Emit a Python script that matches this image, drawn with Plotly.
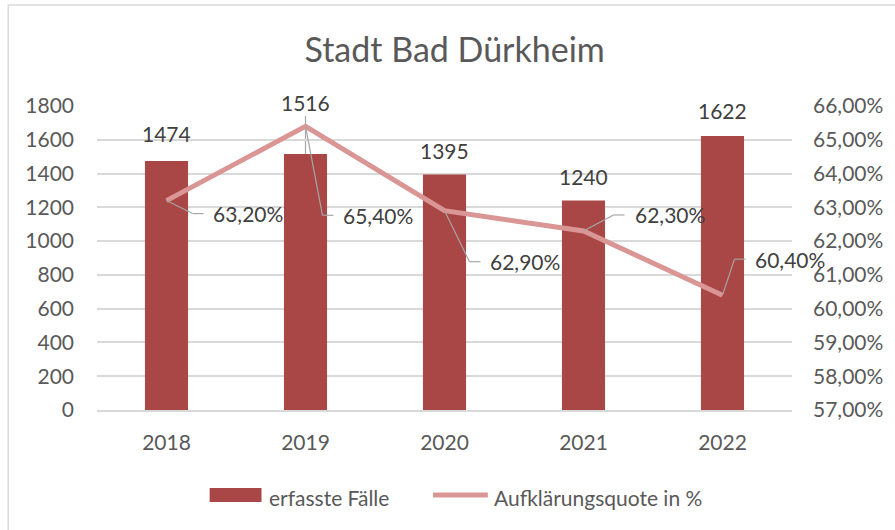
import plotly.graph_objects as go

years = [2018, 2019, 2020, 2021, 2022]
year_labels = ["2018", "2019", "2020", "2021", "2022"]
faelle = [1474, 1516, 1395, 1240, 1622]
quote = [0.632, 0.654, 0.629, 0.623, 0.604]
quote_labels = ["63,20%", "65,40%", "62,90%", "62,30%", "60,40%"]
series_names = ["erfasste Fälle", "Aufklärungsquote in %"]

# label placement (pixels, y down) relative to each line point:
# (text left x, text centre y, elbow x)
quote_label_pos = [(44, 13, 26), (35, 89, 17), (43, 51, 25), (49, -16, 30), (30, -36, 12)]
STUB = 11
bar_label_shift = [28, 51, 24, 24, 26]

BAR = "#A84745"
LINE = "#D99694"
GRID = "#D9D9D9"
LEAD = "#A6A6A6"
TXT = "#595959"
LAB = "#404040"
FONT = "Lato"
FS = 21

fig = go.Figure()
fig.add_trace(go.Bar(x=years, y=faelle, name=series_names[0],
                     marker=dict(color=BAR, line=dict(width=0)), width=0.31,
                     yaxis="y", showlegend=False))
fig.add_trace(go.Scatter(x=years, y=quote, name=series_names[1],
                         mode="lines", line=dict(color=LINE, width=5),
                         yaxis="y2", showlegend=False))

ann = []
shapes = []
for i, (yr, v) in enumerate(zip(years, faelle)):
    ann.append(dict(x=yr, y=v, xref="x", yref="y", text=str(v),
                    showarrow=False, yshift=bar_label_shift[i],
                    font=dict(size=FS, color=LAB, family=FONT)))
    if bar_label_shift[i] > 40:
        shapes.append(dict(type="line", xref="x", yref="y", layer="below",
                           xsizemode="pixel", ysizemode="pixel",
                           xanchor=yr, yanchor=v, x0=0, x1=0, y0=0,
                           y1=bar_label_shift[i] - 13,
                           line=dict(color=LEAD, width=1.2)))

for yr, q, lab, (tx, ty, ex) in zip(years, quote, quote_labels, quote_label_pos):
    ann.append(dict(x=yr, y=q, xref="x", yref="y2", text=lab,
                    showarrow=False, xanchor="left", yanchor="middle",
                    xshift=tx, yshift=-ty,
                    font=dict(size=FS, color=LAB, family=FONT)))
    shapes.append(dict(type="line", xref="x", yref="y2",
                       xsizemode="pixel", ysizemode="pixel",
                       xanchor=yr, yanchor=q, x0=0, y0=0, x1=ex, y1=-ty,
                       line=dict(color=LEAD, width=1.2)))
    shapes.append(dict(type="line", xref="x", yref="y2",
                       xsizemode="pixel", ysizemode="pixel",
                       xanchor=yr, yanchor=q, x0=ex, y0=-ty, x1=ex + STUB, y1=-ty,
                       line=dict(color=LEAD, width=1.2)))

# custom legend (paper coordinates)
ann.append(dict(x=0.2439, y=-0.2862, xref="paper", yref="paper",
                text=series_names[0], showarrow=False, xanchor="left",
                yanchor="middle", font=dict(size=FS, color=TXT, family=FONT)))
ann.append(dict(x=0.5681, y=-0.2862, xref="paper", yref="paper",
                text=series_names[1], showarrow=False, xanchor="left",
                yanchor="middle", font=dict(size=FS, color=TXT, family=FONT)))

shapes += [
    dict(type="rect", xref="paper", yref="paper",
         x0=-0.1277, x1=2, y0=-2, y1=1.332,
         line=dict(color=GRID, width=1.5), fillcolor="rgba(0,0,0,0)",
         layer="below"),
    dict(type="rect", xref="paper", yref="paper",
         x0=0.1621, x1=0.2367, y0=-0.3026, y1=-0.2566,
         line=dict(width=0), fillcolor=BAR),
    dict(type="line", xref="paper", yref="paper",
         x0=0.4835, x1=0.5624, y0=-0.2796, y1=-0.2796,
         line=dict(color=LINE, width=5)),
]

fig.update_layout(
    width=895, height=530,
    margin=dict(l=97, r=101, t=106, b=120),
    paper_bgcolor="white", plot_bgcolor="white",
    separators=",.",
    font=dict(family=FONT, color=TXT, size=FS),
    title=dict(text="Stadt Bad Dürkheim", xref="container", yref="container",
               x=0.508, y=0.906, xanchor="center", yanchor="middle",
               font=dict(size=34, color=TXT, family=FONT)),
    xaxis=dict(type="linear", range=[2017.5, 2022.5], tickmode="array",
               tickvals=years, ticktext=year_labels,
               showgrid=False, showline=True, linecolor=GRID, zeroline=False,
               linewidth=1.5, ticks="", tickfont=dict(size=FS, color=TXT),
               ticklabelstandoff=13),
    yaxis=dict(range=[0, 1800], dtick=200, tickformat="d", showgrid=True,
               gridcolor=GRID, gridwidth=1.5, zeroline=False, showline=False,
               ticks="", tickfont=dict(size=FS, color=TXT), ticklabelstandoff=22),
    yaxis2=dict(range=[0.57, 0.66], dtick=0.01, tickformat=".2%",
                overlaying="y", side="right", showgrid=False, zeroline=False,
                showline=False, ticks="", tickfont=dict(size=FS, color=TXT),
                ticklabelstandoff=20),
    showlegend=False,
    annotations=ann,
    shapes=shapes,
)

fig.write_html("out.html", config={"displayModeBar": False},
               post_script="document.body.style.margin='0';"
                           "document.body.style.overflow='hidden';")
